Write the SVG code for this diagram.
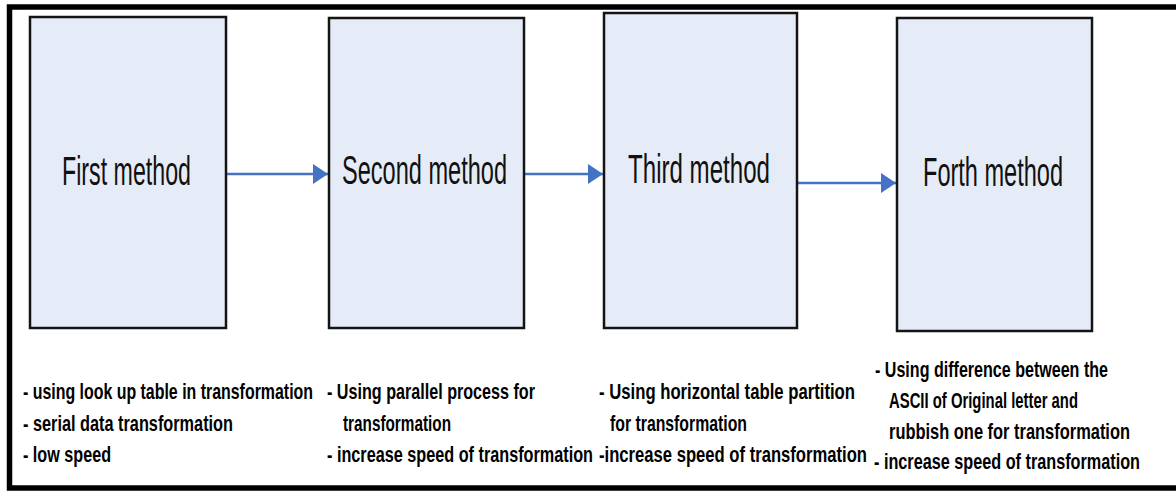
<svg xmlns="http://www.w3.org/2000/svg" width="1176" height="494" viewBox="0 0 1176 494">
  <defs>
    <style>
      .box { fill: #e6ecf7; stroke: #141414; stroke-width: 2.5; }
      .title { font-family: "Liberation Sans", Arial, sans-serif; font-size: 40px; fill: #111; }
      .note { font-family: "Liberation Sans", Arial, sans-serif; font-size: 22px; font-weight: bold; fill: #000; }
      .link { stroke: #4472c4; stroke-width: 2.5; fill: none; marker-end: url(#head); }
    </style>
    <marker id="head" markerUnits="userSpaceOnUse" markerWidth="15" markerHeight="20" refX="15" refY="10" orient="auto">
      <path d="M0,0 L15,10 L0,20 Z" fill="#4472c4"/>
    </marker>
  </defs>

  <rect width="1176" height="494" fill="#ffffff"/>
  <!-- outer frame (open on the right edge) -->
  <rect x="9.5" y="7" width="1180" height="481" fill="none" stroke="#000" stroke-width="5.5"/>

  <g id="connectors">
    <line class="link" x1="226" y1="174" x2="328" y2="174"/>
    <line class="link" x1="524" y1="174" x2="603" y2="174"/>
    <line class="link" x1="798" y1="183" x2="896" y2="183"/>
  </g>

  <g id="first-method">
    <rect class="box" x="30" y="17" width="196" height="311"/>
    <text class="title" x="62" y="185" textLength="129" lengthAdjust="spacingAndGlyphs">First method</text>
    <text class="note" x="23" y="399" textLength="290" lengthAdjust="spacingAndGlyphs">- using look up table in transformation</text>
    <text class="note" x="23" y="431" textLength="210" lengthAdjust="spacingAndGlyphs">- serial data transformation</text>
    <text class="note" x="23" y="462" textLength="88" lengthAdjust="spacingAndGlyphs">- low speed</text>
  </g>

  <g id="second-method">
    <rect class="box" x="329" y="18" width="195" height="310"/>
    <text class="title" x="342" y="184" textLength="165" lengthAdjust="spacingAndGlyphs">Second method</text>
    <text class="note" x="327" y="399" textLength="208" lengthAdjust="spacingAndGlyphs">- Using parallel process for</text>
    <text class="note" x="343" y="431" textLength="108" lengthAdjust="spacingAndGlyphs">transformation</text>
    <text class="note" x="327" y="462" textLength="266" lengthAdjust="spacingAndGlyphs">- increase speed of transformation</text>
  </g>

  <g id="third-method">
    <rect class="box" x="604" y="13" width="193" height="315"/>
    <text class="title" x="628" y="183" textLength="142" lengthAdjust="spacingAndGlyphs">Third method</text>
    <text class="note" x="599" y="399" textLength="256" lengthAdjust="spacingAndGlyphs">- Using horizontal table partition</text>
    <text class="note" x="610" y="431" textLength="137" lengthAdjust="spacingAndGlyphs">for transformation</text>
    <text class="note" x="599" y="462" textLength="268" lengthAdjust="spacingAndGlyphs">-increase speed of transformation</text>
  </g>

  <g id="forth-method">
    <rect class="box" x="897" y="18" width="195" height="313"/>
    <text class="title" x="923" y="186" textLength="140" lengthAdjust="spacingAndGlyphs">Forth method</text>
    <text class="note" x="875" y="377" textLength="233" lengthAdjust="spacingAndGlyphs">- Using difference between the</text>
    <text class="note" x="889" y="408" textLength="189" lengthAdjust="spacingAndGlyphs">ASCII of Original letter and</text>
    <text class="note" x="889" y="439" textLength="241" lengthAdjust="spacingAndGlyphs">rubbish one for transformation</text>
    <text class="note" x="874" y="469" textLength="266" lengthAdjust="spacingAndGlyphs">- increase speed of transformation</text>
  </g>
</svg>
